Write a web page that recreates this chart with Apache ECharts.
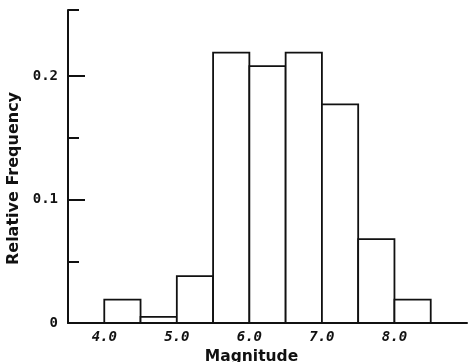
<!DOCTYPE html>
<html>
<head>
<meta charset="utf-8">
<script src="https://cdn.jsdelivr.net/npm/echarts@6/dist/echarts.min.js"></script>
<style>html,body{margin:0;padding:0;background:#fff}#c{width:473px;height:362px}</style>
</head>
<body>
<div id="c"></div>
<script>
// Bin edges (magnitude) and relative frequencies
const binStarts = [4.0, 4.5, 5.0, 5.5, 6.0, 6.5, 7.0, 7.5, 8.0];
const binEnds   = [4.5, 5.0, 5.5, 6.0, 6.5, 7.0, 7.5, 8.0, 8.5];
const relFreq   = [0.019, 0.005, 0.038, 0.219, 0.208, 0.219, 0.177, 0.068, 0.019];
const xTickLabels = [4, 5, 6, 7, 8];
const yTickLabels = [0, 0.1, 0.2];
const yMajorTicks = [0.1, 0.2];
const yMinorTicks = [0.05, 0.15, 0.2535];
const yMax = 0.2535;

const ink = '#111';
const data = binStarts.map((s, i) => [s, binEnds[i], relFreq[i]]);

const chart = echarts.init(document.getElementById('c'));
chart.setOption({
  animation: false,
  backgroundColor: '#fff',
  grid: { left: 68, right: 6, top: 10, bottom: 39, containLabel: false, outerBoundsMode: 'none' },
  xAxis: {
    type: 'value', min: 3.5, max: 9.0,
    name: 'Magnitude', nameLocation: 'middle', nameGap: 19,
    nameTextStyle: { fontFamily: 'DejaVu Sans', fontWeight: 'bold', fontSize: 15.5, color: ink, padding: [0, 32, 0, 0] },
    axisLine: { show: true, lineStyle: { color: ink, width: 2 } },
    axisTick: { show: false },
    splitLine: { show: false },
    axisLabel: {
      customValues: xTickLabels,
      formatter: v => v.toFixed(1),
      margin: 7,
      fontFamily: 'DejaVu Sans Mono', fontStyle: 'italic', fontWeight: 'bold', fontSize: 14, color: ink
    }
  },
  yAxis: [{
    type: 'value', min: 0, max: yMax, interval: 0.05,
    name: 'Relative Frequency', nameLocation: 'middle', nameGap: 42,
    nameTextStyle: { fontFamily: 'DejaVu Sans', fontWeight: 'bold', fontSize: 16, color: ink, padding: [0, 24, 0, 0] },
    axisLine: { show: true, lineStyle: { color: ink, width: 2 } },
    axisTick: { show: true, inside: true, length: 11, customValues: yMinorTicks, lineStyle: { color: ink, width: 2 } },
    splitLine: { show: false },
    axisLabel: {
      customValues: yTickLabels,
      formatter: v => (v === 0 ? '0' : v.toFixed(1)),
      margin: 10,
      fontFamily: 'DejaVu Sans Mono', fontWeight: 'bold', fontSize: 14, color: ink
    }
  }, {
    type: 'value', min: 0, max: yMax, interval: 0.05, position: 'left',
    axisLine: { show: false },
    axisTick: { show: true, inside: true, length: 17, customValues: yMajorTicks, lineStyle: { color: ink, width: 2 } },
    axisLabel: { show: false },
    splitLine: { show: false }
  }],
  series: [{
    type: 'custom',
    xAxisIndex: 0, yAxisIndex: 0,
    data: data,
    renderItem: function (params, api) {
      const p0 = api.coord([api.value(0), api.value(2)]);
      const p1 = api.coord([api.value(1), 0]);
      return {
        type: 'rect',
        shape: { x: p0[0], y: p0[1], width: p1[0] - p0[0], height: p1[1] - p0[1] },
        style: { fill: '#fff', stroke: ink, lineWidth: 1.8 }
      };
    }
  }]
});
</script>
</body>
</html>
